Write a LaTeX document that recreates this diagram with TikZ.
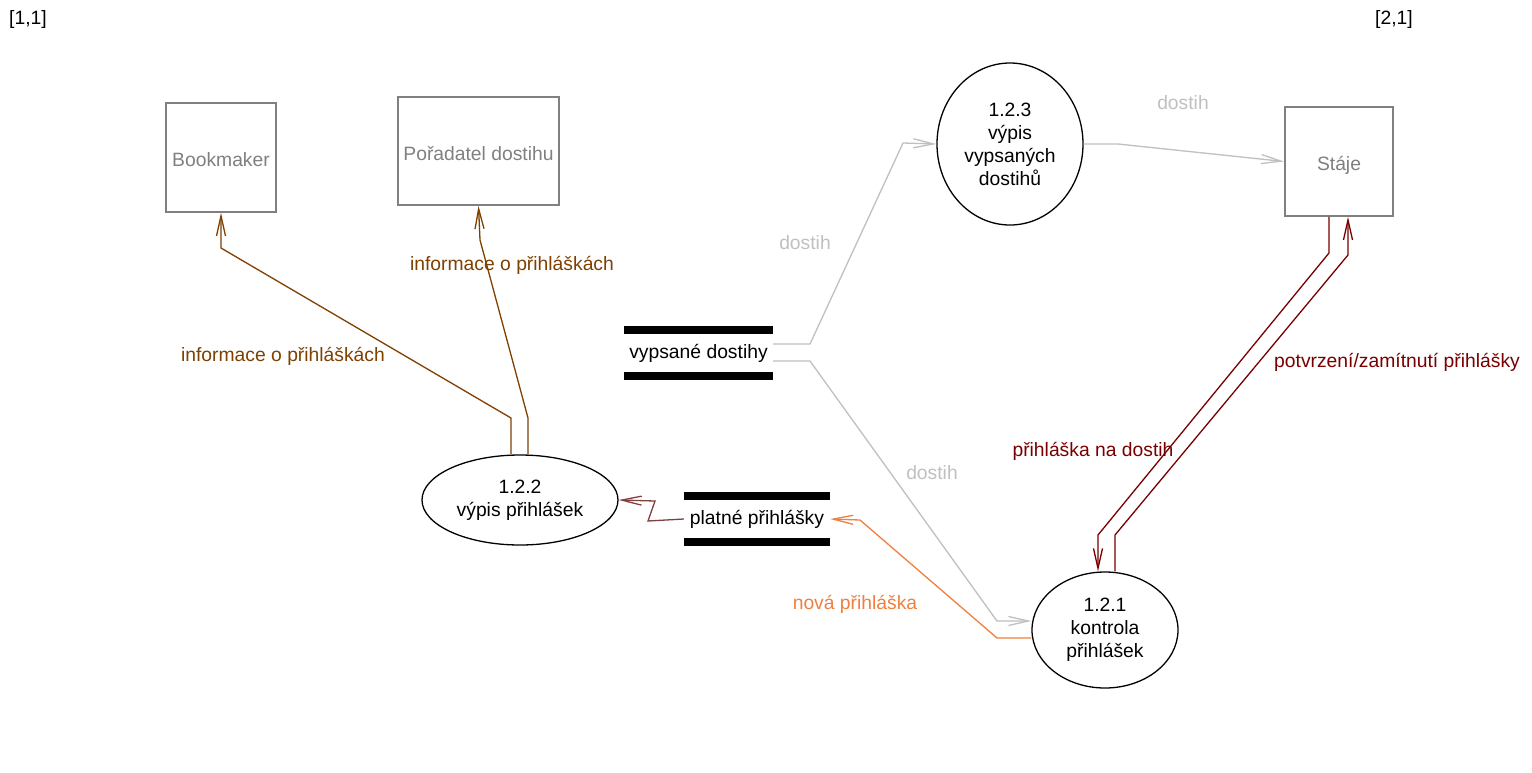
\documentclass[tikz,border=0pt]{standalone}
\usepackage{fontspec}
\setmainfont{Liberation Sans}
\usetikzlibrary{arrows.meta,shapes.geometric}
\definecolor{boxgray}{HTML}{808080}
\definecolor{lgray}{HTML}{C0C0C0}
\definecolor{brn}{HTML}{7F4000}
\definecolor{dred}{HTML}{780000}
\definecolor{orng}{HTML}{F08040}
\definecolor{rbrn}{HTML}{804040}
\tikzset{
  every node/.style={font=\fontsize{19.3}{23}\selectfont, inner sep=0pt, align=center},
  entity/.style={draw=boxgray, line width=1.8pt, text=boxgray, rectangle, text height=18pt, text depth=0pt},
  process/.style={draw=black, line width=1.3pt, ellipse},
  store/.style={minimum width=149pt, minimum height=46pt},
  bar/.style={line width=8pt},
  conn/.style={line width=1.3pt, -{Straight Barb[length=20pt,width=9pt]}},
}
\begin{document}
\begin{tikzpicture}[x=1pt,y=-1pt]
\useasboundingbox[fill=white] (0,0) rectangle (1532,772);

\node (c11) at (28,20) {[1,1]};
\node (c21) at (1394,20) {[2,1]};

% entities
\node[entity, minimum width=110pt, minimum height=109pt] (bm) at (221,157.5) {Bookmaker};
\node[entity, minimum width=161pt, minimum height=108pt] (pd) at (478.5,151) {Pořadatel dostihu};
\node[entity, minimum width=108pt, minimum height=109pt] (st) at (1339,161.5) {Stáje};

% processes
\node[process, minimum width=146pt, minimum height=162pt] (p123) at (1010,144) {1.2.3\\výpis\\vypsaných\\dostihů};
\node[process, minimum width=196pt, minimum height=90pt] (p122) at (520,500) {1.2.2\\výpis přihlášek};
\node[process, minimum width=146pt, minimum height=116pt] (p121) at (1105,630) {1.2.1\\kontrola\\přihlášek};

% stores
\node[store] (vd) at (698.5,353) {vypsané dostihy};
\draw[bar] (vd.north west) -- (vd.north east);
\draw[bar] (vd.south west) -- (vd.south east);
\node[store, minimum width=146pt] (pp) at (757,519) {platné přihlášky};
\draw[bar] (pp.north west) -- (pp.north east);
\draw[bar] (pp.south west) -- (pp.south east);

% connectors
\draw[conn, lgray] ([yshift=9pt]vd.east) -- (810,344) -- (903,143) -- (p123.west);
\draw[conn, lgray] (p123.east) -- (1118,144) -- (st.west);
\draw[conn, lgray] ([yshift=-8pt]vd.east) -- (810,361) -- (997,621) -- ([yshift=9pt]p121.west);
\draw[conn, orng] ([yshift=-8pt]p121.west) -- (997,638) -- (860,520) -- (pp.east);
\draw[conn, rbrn] (pp.west) -- (648,521) -- (655,501) -- (p122.east);
\draw[conn, brn] ([xshift=-9pt]p122.north) -- (511,418) -- (221,248) -- (bm.south);
\draw[conn, brn] ([xshift=8pt]p122.north) -- (528,418) -- (480,240) -- (pd.south);
\draw[conn, dred] ([xshift=-10pt]st.south) -- (1329,253) -- (1098,535) -- ([xshift=-7pt]p121.north);
\draw[conn, dred] ([xshift=10pt]p121.north) -- (1115,535) -- (1348,255) -- ([xshift=9pt]st.south);

% labels
\node[text=lgray] (l1) at (805,243) {dostih};
\node[text=lgray] (l2) at (1183,103) {dostih};
\node[text=lgray] (l3) at (932,473) {dostih};
\node[text=orng] (l4) at (855,604) {nová přihláška};
\node[text=brn] (l5) at (283,356) {informace o přihláškách};
\node[text=brn] (l6) at (512,265) {informace o přihláškách};
\node[text=dred] (l7) at (1093,451) {přihláška na dostih};
\node[text=dred] (l8) at (1397,362) {potvrzení/zamítnutí přihlášky};
\end{tikzpicture}
\end{document}
